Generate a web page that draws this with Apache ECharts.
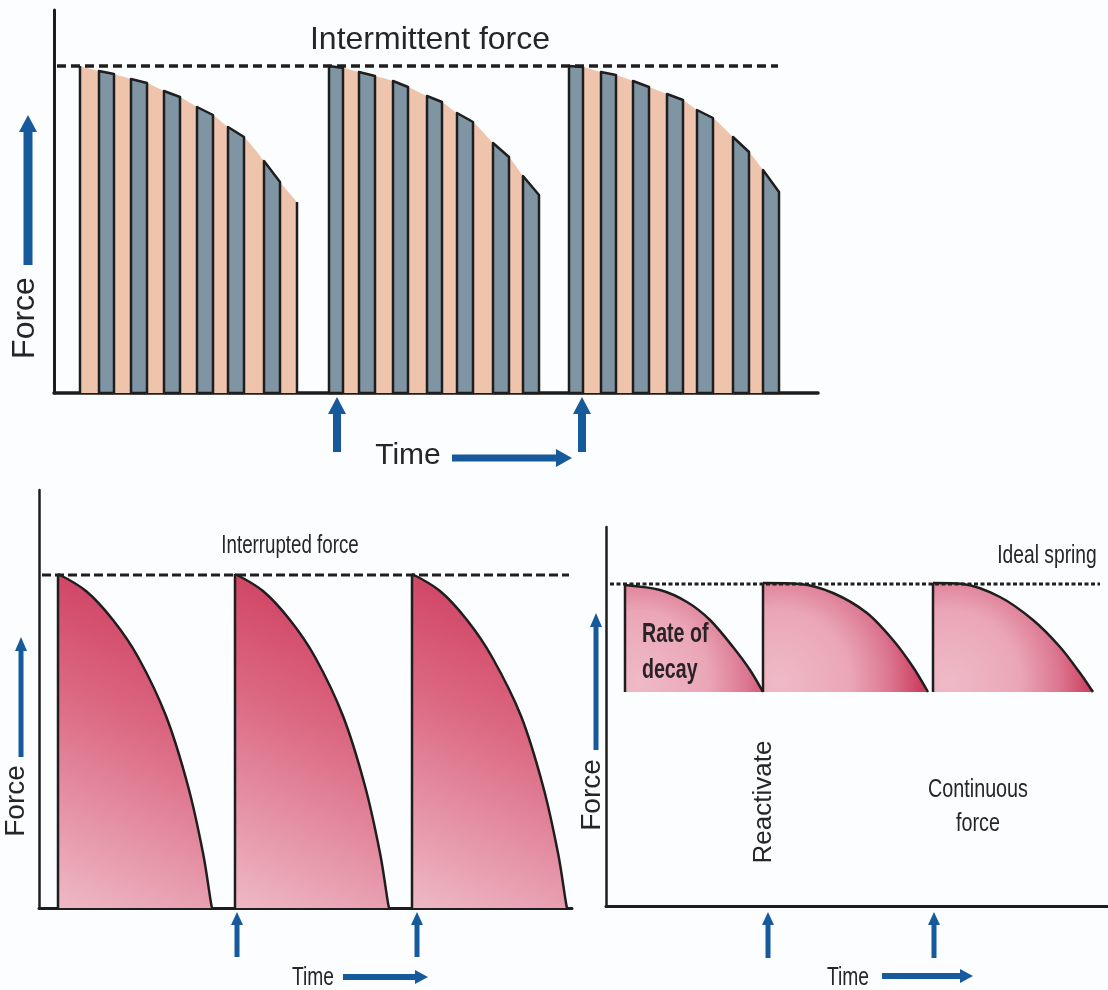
<!DOCTYPE html>
<html>
<head>
<meta charset="utf-8">
<title>Intermittent, interrupted and continuous force</title>
<script src="https://cdn.jsdelivr.net/npm/echarts@6/dist/echarts.min.js"></script>
<style>
  html, body { margin: 0; padding: 0; background: #fcfdfe; }
  #chart { width: 1108px; height: 990px; }
</style>
</head>
<body>
<div id="chart"></div>
<script>
// values: x = time, y = force (arbitrary units)

// --- top: intermittent force ---
var intermittentPeak = 327;
var intermittentSpan = [3, 724];
var intermittentCurves = [
  [[26, 327], [45, 322], [60, 319], [77, 314], [93, 310], [110, 302], [126, 296], [143, 286], [159, 278], [174, 266], [190, 256], [210, 232], [226, 211], [243, 191]],
  [[275, 327], [289, 325], [305, 321], [321, 317], [339, 312], [354, 306], [373, 297], [388, 291], [403, 280], [419, 271], [439, 250], [455, 236], [469, 217], [485, 198]],
  [[515, 327], [529, 326], [547, 321], [562, 318], [579, 312], [595, 306], [613, 299], [629, 293], [643, 283], [659, 275], [679, 256], [695, 241], [709, 223], [725, 201]]
];
// bars: [start, end, force at start, force at end]
var intermittentBars = [
  [45, 60, 322, 319], [77, 93, 314, 310], [110, 126, 302, 296], [143, 159, 286, 278], [174, 190, 266, 256], [210, 226, 232, 211],
  [275, 289, 327, 325], [305, 321, 321, 317], [339, 354, 312, 306], [373, 388, 297, 291], [403, 419, 280, 271], [439, 455, 250, 236], [469, 485, 217, 198],
  [515, 529, 327, 326], [547, 562, 321, 318], [579, 595, 312, 306], [613, 629, 299, 293], [643, 659, 283, 275], [679, 695, 256, 241], [709, 725, 223, 201]
];
var intermittentReactivate = [283, 528];

// --- bottom left: interrupted force ---
var interruptedPeak = 333;
var interruptedSpan = [3, 530];
var interruptedCurves = [
  [[19, 334], [47, 317], [74, 288], [99, 251], [127, 192], [149, 122], [164, 55], [172, 5], [173, 0]],
  [[196, 334], [224, 317], [251, 288], [276, 251], [304, 192], [326, 122], [341, 55], [349, 5], [350, 0]],
  [[373, 334], [401, 317], [428, 288], [453, 251], [482, 192], [504, 122], [519, 55], [527, 5], [528, 0]]
];
var interruptedReactivate = [198, 378];

// --- bottom right: continuous force ---
var continuousPeak = 322;
var continuousSpan = [4, 494];
var continuousBase = 214;
var continuousCurves = [
  [[19, 321], [54, 316], [81, 304], [104, 286], [127, 259], [144, 236], [157, 214]],
  [[157, 323], [194, 322], [227, 313], [261, 293], [287, 266], [307, 239], [322, 214]],
  [[327, 323], [357, 322], [394, 309], [427, 286], [454, 259], [474, 233], [487, 214]]
];
var continuousReactivate = [162, 328];

var INK = '#1e1e1e';
var BLUE = '#175a9c';
var TEXT = '#262626';
var FONT = '"Liberation Sans", Arial, sans-serif';

var chart = echarts.init(document.getElementById('chart'));

function axis(max, width) {
  return {
    type: 'value', min: 0, max: max,
    axisLine: { show: true, onZero: false, lineStyle: { color: INK, width: width } },
    axisTick: { show: false }, axisLabel: { show: false }, splitLine: { show: false }
  };
}

function levelLine(idx, span, peak, dash, width) {
  return {
    type: 'line', xAxisIndex: idx, yAxisIndex: idx, z: 6, symbol: 'none', silent: true,
    lineStyle: { color: INK, width: width, type: dash },
    data: [[span[0], peak], [span[1], peak]]
  };
}

function edge(idx, pt, base, z) {
  return {
    type: 'line', xAxisIndex: idx, yAxisIndex: idx, z: z, symbol: 'none', silent: true,
    lineStyle: { color: INK, width: 2.5 },
    data: [[pt[0], base], pt]
  };
}

// up arrows below the time axis, one for each reactivation
function reactivateArrows(idx, times, gap, len, shaft, headW, headL) {
  return {
    type: 'custom', xAxisIndex: idx, yAxisIndex: idx, z: 7, silent: true,
    encode: { x: 0, y: 1 },
    data: times.map(function (t) { return [t, 0]; }),
    renderItem: function (params, api) {
      var p = api.coord([api.value(0), 0]);
      var x = p[0], top = p[1] + gap, bottom = top + len;
      return {
        type: 'polygon',
        shape: { points: [[x - shaft / 2, bottom], [x - shaft / 2, top + headL], [x - headW / 2, top + headL], [x, top],
          [x + headW / 2, top + headL], [x + shaft / 2, top + headL], [x + shaft / 2, bottom]] },
        style: { fill: BLUE }
      };
    }
  };
}

// decorative axis arrows (pixel space)
function upArrow(x, tip, bottom, shaft, headW, headL) {
  return { type: 'polygon', silent: true, z: 100, shape: { points: [[x - shaft / 2, bottom], [x - shaft / 2, tip + headL], [x - headW / 2, tip + headL], [x, tip],
    [x + headW / 2, tip + headL], [x + shaft / 2, tip + headL], [x + shaft / 2, bottom]] }, style: { fill: BLUE } };
}
function rightArrow(y, left, tip, shaft, headW, headL) {
  return { type: 'polygon', silent: true, z: 100, shape: { points: [[left, y - shaft / 2], [tip - headL, y - shaft / 2], [tip - headL, y - headW / 2], [tip, y],
    [tip - headL, y + headW / 2], [tip - headL, y + shaft / 2], [left, y + shaft / 2]] }, style: { fill: BLUE } };
}
function label(text, x, y, size, opts) {
  opts = opts || {};
  return {
    type: 'text', x: x, y: y, silent: true, z: 100,
    rotation: opts.rotate ? Math.PI / 2 : 0,
    scaleX: opts.scaleX || 1,
    style: {
      text: text, fill: opts.color || TEXT, fontSize: size, fontFamily: FONT,
      fontWeight: opts.bold ? 'bold' : 'normal',
      align: opts.align || 'center', verticalAlign: 'middle',
      lineHeight: opts.lineHeight || size * 1.2
    }
  };
}

var series = [];

// top panel
intermittentCurves.forEach(function (c) {
  series.push({
    type: 'line', xAxisIndex: 0, yAxisIndex: 0, z: 2, symbol: 'none', silent: true, smooth: 0.3,
    lineStyle: { width: 0, opacity: 0 },
    areaStyle: { color: '#efc4ad', opacity: 1 },
    data: c
  });
});
series.push(edge(0, intermittentCurves[0][0], 0, 4));
series.push(edge(0, intermittentCurves[0][intermittentCurves[0].length - 1], 0, 4));
series.push({
  type: 'custom', xAxisIndex: 0, yAxisIndex: 0, z: 4, silent: true,
  encode: { x: [0, 1], y: [2, 3] },
  data: intermittentBars,
  renderItem: function (params, api) {
    var a = api.coord([api.value(0), 0]);
    var b = api.coord([api.value(0), api.value(2)]);
    var c = api.coord([api.value(1), api.value(3)]);
    var d = api.coord([api.value(1), 0]);
    return { type: 'polygon', shape: { points: [a, b, c, d] }, style: { fill: '#7f95a3', stroke: INK, lineWidth: 2.5, lineJoin: 'round' } };
  }
});
series.push(levelLine(0, intermittentSpan, intermittentPeak, [9, 5], 3.5));
series.push(reactivateArrows(0, intermittentReactivate, 4, 55, 8, 18, 17));

// bottom left panel
var tallGradient = new echarts.graphic.LinearGradient(1, 0, 0, 1, [
  { offset: 0, color: '#cb3356' },
  { offset: 0.45, color: '#db6781' },
  { offset: 1, color: '#eeb9c6' }
]);
interruptedCurves.forEach(function (c) {
  series.push({
    type: 'line', xAxisIndex: 1, yAxisIndex: 1, z: 2, symbol: 'none', silent: true, smooth: 0.35,
    lineStyle: { color: INK, width: 2.5 },
    areaStyle: { color: tallGradient, opacity: 1 },
    data: c
  });
  series.push(edge(1, c[0], 0, 3));
});
series.push(levelLine(1, interruptedSpan, interruptedPeak, [9, 4], 3));
series.push(reactivateArrows(1, interruptedReactivate, 4, 45, 5, 12, 13));

// bottom right panel
var domeGradient = new echarts.graphic.RadialGradient(0.1, 0.9, 1.3, [
  { offset: 0, color: '#efbac7' },
  { offset: 0.5, color: '#eaa6b7' },
  { offset: 0.78, color: '#dc7690' },
  { offset: 1, color: '#cd3f60' }
]);
continuousCurves.forEach(function (c) {
  series.push({
    type: 'line', xAxisIndex: 2, yAxisIndex: 2, z: 2, symbol: 'none', silent: true, smooth: 0.3,
    lineStyle: { color: INK, width: 2.5 },
    areaStyle: { color: domeGradient, opacity: 1, origin: continuousBase },
    data: c
  });
  series.push(edge(2, c[0], continuousBase, 3));
});
series.push(levelLine(2, continuousSpan, continuousPeak, [4, 2.5], 3));
series.push(reactivateArrows(2, continuousReactivate, 6, 46, 5, 12, 13));

chart.setOption({
  backgroundColor: '#fcfdfe',
  animation: false,
  grid: [
    { left: 54, top: 10, width: 764, height: 383 },
    { left: 39, top: 490, width: 533, height: 418 },
    { left: 606, top: 527, width: 502, height: 379 }
  ],
  xAxis: [axis(764, 3.5), axis(533, 3), axis(502, 3)].map(function (a, i) { a.gridIndex = i; return a; }),
  yAxis: [axis(383, 3), axis(418, 2.5), axis(379, 2.5)].map(function (a, i) { a.gridIndex = i; return a; }),
  series: series,
  graphic: [
    // top
    label('Intermittent force', 430, 40, 32),
    label('Force', 25, 318, 32, { rotate: true }),
    upArrow(28, 115, 265, 9, 18, 17),
    label('Time', 408, 456, 30),
    rightArrow(458, 452, 572, 7, 18, 16),
    // bottom left
    label('Interrupted force', 290, 546, 26, { scaleX: 0.72 }),
    label('Force', 16, 801, 28, { rotate: true }),
    upArrow(21, 637, 757, 5, 12, 14),
    label('Time', 313, 978, 26, { scaleX: 0.74 }),
    rightArrow(977, 343, 428, 6, 14, 13),
    // bottom right
    label('Ideal spring', 1047, 556, 26, { scaleX: 0.74 }),
    label('Rate of\ndecay', 642, 652, 28, { bold: true, scaleX: 0.7, align: 'left', lineHeight: 36, color: '#2a2226' }),
    label('Reactivate', 764, 802, 26, { rotate: true }),
    label('Continuous\nforce', 978, 807, 26, { scaleX: 0.76, lineHeight: 34 }),
    label('Force', 592, 795, 28, { rotate: true }),
    upArrow(596, 613, 750, 5, 12, 14),
    label('Time', 848, 978, 26, { scaleX: 0.74 }),
    rightArrow(976, 882, 973, 6, 14, 13)
  ]
});
</script>
</body>
</html>
